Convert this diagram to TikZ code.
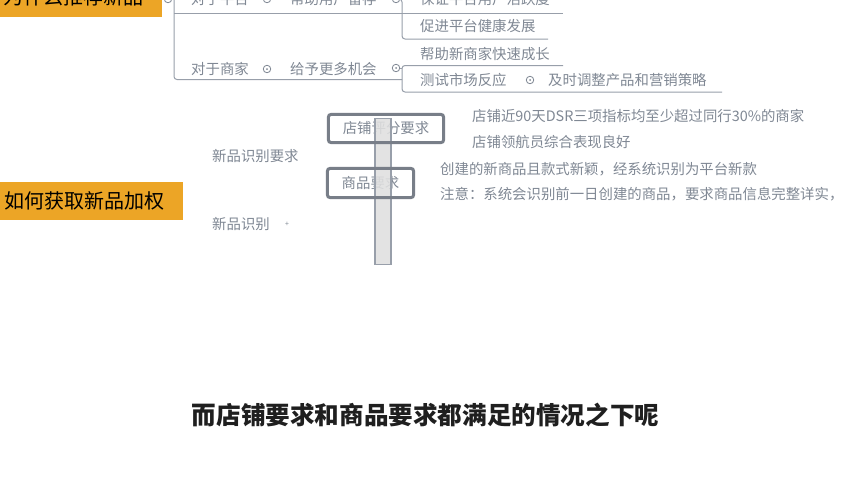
\documentclass[tikz,border=0pt]{standalone}
\usepackage{fontspec}
\setmainfont{Noto Sans CJK SC}
\definecolor{orng}{RGB}{236,165,38}
\definecolor{lgray}{RGB}{152,159,170}
\definecolor{tgray}{RGB}{128,136,148}
\definecolor{bgray}{RGB}{120,126,136}
\begin{document}
\begin{tikzpicture}[x=1pt,y=-1pt,
  txt/.style={anchor=west,inner sep=0pt,text=tgray,font=\fontsize{14.4}{16}\selectfont},
  ln/.style={draw=lgray,line width=1pt},
  dotc/.style={circle,draw=tgray,line width=0.8pt,minimum size=7.5pt,inner sep=0pt,
    path picture={\fill[tgray] (path picture bounding box.center) circle (1pt);}},
  tagbox/.style={fill=orng,anchor=west,inner ysep=0pt,text=black,
    font=\fontsize{20}{24}\selectfont,align=left},
  sbox/.style={inner sep=0pt,text=tgray,font=\fontsize{14.4}{16}\selectfont},
  sborder/.style={draw=bgray,line width=3pt,rounded corners=3pt},
  captext/.style={font=\fontsize{24.6}{28}\selectfont\bfseries,text=black!88}
]
\clip (0,0) rectangle (852,480);
\fill[white] (0,0) rectangle (852,480);

% ---------- top section ----------
\node[tagbox,inner xsep=3pt,text width=156pt,minimum height=40pt] (t1) at (0,-3) {为什么推荐新品};
\node[dotc] (c1) at (168,-1) {};

\node[txt] (p1) at (191,-1) {对于平台};
\node[dotc] (c2) at (267,-1) {};
\node[txt] (p2) at (290,-1) {帮助用户留存};
\node[dotc] (c3) at (396,-1) {};
\node[txt] (p3) at (420,-1) {保证平台用户活跃度};
\node[txt] (p4) at (420,26) {促进平台健康发展};

\node[txt] (m1) at (191,69) {对于商家};
\node[dotc] (c4) at (267,69) {};
\node[txt] (m2) at (290,69) {给予更多机会};
\node[dotc] (c5) at (396,68) {};
\node[txt] (m3) at (420,54) {帮助新商家快速成长};
\node[txt] (m4) at (420,80) {测试市场反应};
\node[dotc] (c6) at (530,80) {};
\node[txt] (m5) at (548,80) {及时调整产品和营销策略};

\draw[ln,rounded corners=3pt] (174,-8) |- (402,79.5);
\draw[ln] (174,13) -- (563,13);
\draw[ln,rounded corners=3pt] (c3.east) -- (402,-1) |- (548,39);
\draw[ln] (c5.east) -- (402,68);
\draw[ln,rounded corners=3pt] (563,65.5) -| (402,80) |- (722,92);

% ---------- middle section ----------
\node[tagbox,inner xsep=4pt,text width=175pt,minimum height=38pt] (t2) at (0,201) {如何获取新品加权};

\node[txt] (n1) at (212,156) {新品识别要求};
\node[txt] (n2) at (212,224) {新品识别};
\node[text=tgray,font=\fontsize{7}{8}\selectfont,inner sep=0pt] (pl) at (287,224) {+};

\node[sbox,minimum width=115pt,minimum height=28pt] (b1) at (386,128.5) {店铺评分要求};
\node[sbox,minimum width=86pt,minimum height=29pt] (b2) at (370.5,183) {商品要求};

\node[txt] (r1) at (472,116) {店铺近90天DSR三项指标均至少超过同行30\%的商家};
\node[txt] (r2) at (472,142) {店铺领航员综合表现良好};
\node[txt] (r3) at (440,169) {创建的新商品且款式新颖，经系统识别为平台新款};
\node[txt] (r4) at (440,194) {注意：系统会识别前一日创建的商品，要求商品信息完整详实，};

\node[draw=lgray,line width=1.5pt,fill=black!12,fill opacity=0.88,inner sep=0pt,
  minimum width=16pt,minimum height=146pt] (strip) at (383,191.5) {};

\draw[sborder] (b1.north west) rectangle (b1.south east);
\draw[sborder] (b2.north west) rectangle (b2.south east);

% ---------- caption ----------
\node[captext] (cp) at (425.5,415) {而店铺要求和商品要求都满足的情况之下呢};
\end{tikzpicture}
\end{document}
